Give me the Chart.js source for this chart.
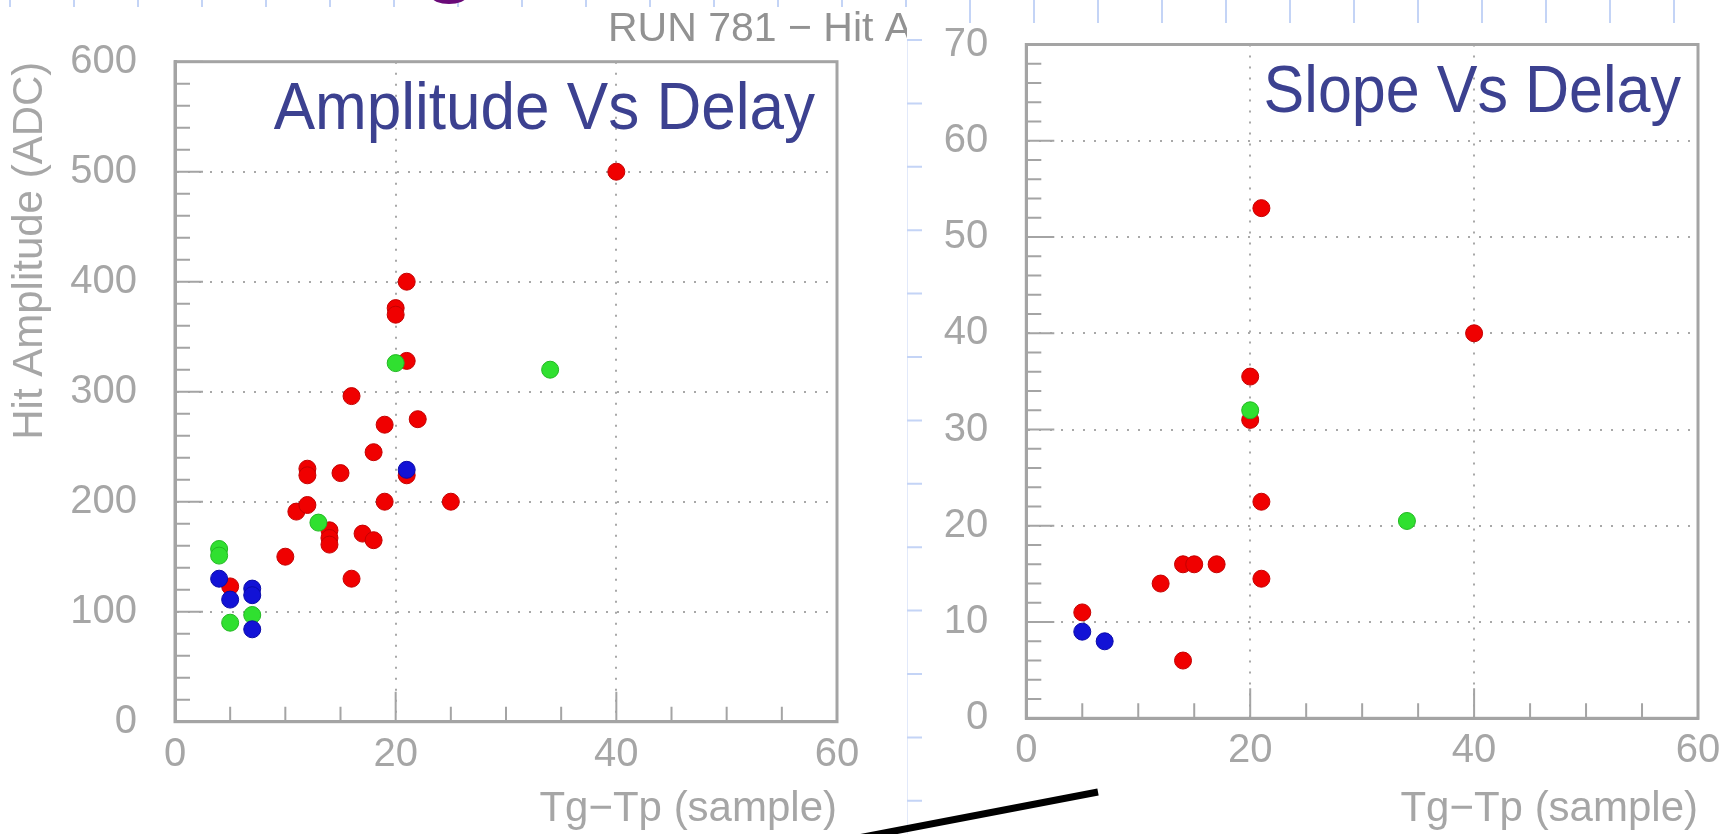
<!DOCTYPE html>
<html>
<head>
<meta charset="utf-8">
<title>RUN 781 – Amplitude and Slope vs Delay</title>
<script src="https://cdn.jsdelivr.net/npm/chart.js@4.4.1/dist/chart.umd.min.js"></script>
<style>
  html, body { margin: 0; padding: 0; background: #fff; }
  body { width: 1734px; height: 834px; position: relative; overflow: hidden; }
  canvas { position: absolute; top: 0; }
  #ampCanvas { left: 0; }
  #slopeCanvas { left: 907px; }
  #deco { left: 0; pointer-events: none; }
</style>
</head>
<body>
<canvas id="ampCanvas" width="907" height="834"></canvas>
<canvas id="slopeCanvas" width="827" height="834"></canvas>
<canvas id="deco" width="1734" height="834"></canvas>
<script>
// ---- Hit amplitude (ADC) against Tg-Tp delay (samples) ----
const ampRedDelay   = [40, 21, 20, 20, 21, 16, 22, 19, 18, 21, 12, 12, 15, 19, 25, 11, 12, 14, 14, 14, 17, 18, 10, 16, 5];
const ampRedAdc     = [500, 400, 376, 370, 328, 296, 275, 270, 245, 224, 230, 224, 226, 200, 200, 191, 197, 174, 167, 161, 171, 165, 150, 130, 123];
const ampGreenDelay = [20, 34, 13, 4, 4, 5, 7];
const ampGreenAdc   = [326, 320, 181, 157, 151, 90, 97];
const ampBlueDelay  = [21, 4, 5, 7, 7, 7];
const ampBlueAdc    = [229, 130, 111, 121, 115, 84];

// ---- Pulse slope against Tg-Tp delay (samples) ----
const slopeRedDelay   = [21, 40, 20, 20, 21, 14, 15, 17, 12, 21, 5, 14];
const slopeRedVal     = [53, 40, 35.5, 31, 22.5, 16, 16, 16, 14, 14.5, 11, 6];
const slopeGreenDelay = [20, 34];
const slopeGreenVal   = [32, 20.5];
const slopeBlueDelay  = [5, 7];
const slopeBlueVal    = [9, 8];

// ---- axis ranges and tick labels ----
const delayRange = [0, 60];
const delayTicks = [0, 20, 40, 60];
const ampRange   = [0, 600];
const ampTicks   = [0, 100, 200, 300, 400, 500, 600];
const slopeRange = [0, 70];
const slopeTicks = [0, 10, 20, 30, 40, 50, 60, 70];

const FONT = "'Liberation Sans', Arial, Helvetica, sans-serif";
const LABEL = '#a6a6a6';
const FRAME = '#a4a4a4';
const GRID = '#a8a8a8';
const TITLE_BLUE = '#3c4190';

// Inward ROOT-style tick marks and the closed frame around the plot area
const rootFrame = {
  id: 'rootFrame',
  beforeDatasetsDraw(chart, args, o) {
    const { ctx, chartArea: a, scales: { x, y } } = chart;
    const isMul = (v, s) => Math.abs(v / s - Math.round(v / s)) < 1e-6;
    ctx.save();
    ctx.strokeStyle = FRAME;
    ctx.lineWidth = 2;
    ctx.beginPath();
    for (let v = x.min; v <= x.max + 1e-9; v += o.xMinor) {
      const px = x.getPixelForValue(v);
      const len = isMul(v, o.xMajor) ? o.xMajorLen : o.minorLen;
      ctx.moveTo(px, a.bottom);
      ctx.lineTo(px, a.bottom - len);
    }
    for (let v = y.min; v <= y.max + 1e-9; v += o.yMinor) {
      const py = y.getPixelForValue(v);
      const len = isMul(v, o.yMajor) ? o.yMajorLen : o.minorLen;
      ctx.moveTo(a.left, py);
      ctx.lineTo(a.left + len, py);
    }
    ctx.stroke();
    ctx.lineWidth = 3;
    ctx.strokeRect(a.left, a.top, a.right - a.left, a.bottom - a.top);
    ctx.restore();
  }
};

// Panel caption inside the frame (narrowed face), plus an optional canvas header line
const panelTitle = {
  id: 'panelTitle',
  afterDraw(chart, args, o) {
    const { ctx, chartArea: a } = chart;
    ctx.save();
    ctx.font = '66px ' + FONT;
    ctx.fillStyle = TITLE_BLUE;
    ctx.textAlign = 'right';
    ctx.textBaseline = 'alphabetic';
    ctx.translate(a.right - o.inset, a.top + 67.5);
    ctx.scale(o.squeeze, 1);
    ctx.fillText(o.text, 0, 0);
    ctx.restore();
    if (o.header) {
      ctx.save();
      ctx.font = '41px ' + FONT;
      ctx.fillStyle = '#929292';
      ctx.textAlign = 'left';
      ctx.fillText(o.header, o.headerX, o.headerY);
      ctx.restore();
    }
  }
};

const toPoints = (xs, ys) => xs.map((v, i) => ({ x: v, y: ys[i] }));

function makePanel(id, p) {
  return new Chart(document.getElementById(id), {
    type: 'scatter',
    data: {
      datasets: [
        { label: 'blue',  data: toPoints(p.blue[0], p.blue[1]),   backgroundColor: '#1212d6', borderColor: '#0a0aa8' },
        { label: 'green', data: toPoints(p.green[0], p.green[1]), backgroundColor: '#30e030', borderColor: '#22b822' },
        { label: 'red',   data: toPoints(p.red[0], p.red[1]),     backgroundColor: '#f00000', borderColor: '#c40000' }
      ]
    },
    options: {
      responsive: false,
      animation: false,
      devicePixelRatio: 1,
      layout: { padding: { top: p.padTop, right: p.padRight, bottom: 0, left: 0 } },
      elements: { point: { radius: 8.5, hoverRadius: 8.5, borderWidth: 1 } },
      plugins: {
        legend: { display: false },
        tooltip: { enabled: false },
        rootFrame: { xMinor: 5, xMajor: 20, yMinor: p.yMinor, yMajor: p.yMajor, xMajorLen: 30, yMajorLen: 28, minorLen: 15 },
        panelTitle: { text: p.title, inset: p.titleInset, squeeze: p.squeeze, header: p.header, headerX: p.headerX, headerY: p.headerY }
      },
      scales: {
        x: {
          type: 'linear',
          min: delayRange[0], max: delayRange[1],
          afterFit(s) { s.height = p.xAxisHeight; },
          afterBuildTicks(s) { s.ticks = delayTicks.map(v => ({ value: v })); },
          ticks: { padding: 9, color: LABEL, font: { family: FONT, size: 40 }, maxRotation: 0, autoSkip: false },
          grid: { drawTicks: false, color: GRID, lineWidth: 2 },
          border: { color: FRAME, width: 3, dash: [2, 9] },
          title: { display: true, text: 'Tg\u2212Tp (sample)', align: 'end', color: LABEL,
                   font: { family: FONT, size: 42 }, padding: { top: 0, bottom: -1 } }
        },
        y: {
          type: 'linear',
          min: p.yRange[0], max: p.yRange[1],
          afterFit(s) { s.width = p.yAxisWidth; },
          afterBuildTicks(s) { s.ticks = p.yTicks.map(v => ({ value: v })); },
          ticks: { padding: 0, color: LABEL, font: { family: FONT, size: 40 }, autoSkip: false },
          grid: { drawTicks: true, tickLength: 38, tickColor: 'rgba(0,0,0,0)', color: GRID, lineWidth: 2 },
          border: { color: FRAME, width: 3, dash: [2, 9] },
          title: { display: !!p.yTitle, text: p.yTitle || '', align: 'end', color: LABEL,
                   font: { family: FONT, size: 42 }, padding: { top: 5, bottom: 0 } }
        }
      }
    },
    plugins: [rootFrame, panelTitle]
  });
}

makePanel('ampCanvas', {
  red: [ampRedDelay, ampRedAdc], green: [ampGreenDelay, ampGreenAdc], blue: [ampBlueDelay, ampBlueAdc],
  yRange: ampRange, yTicks: ampTicks, yMinor: 20, yMajor: 100,
  padTop: 61.7, padRight: 70, yAxisWidth: 175, xAxisHeight: 112.3,
  title: 'Amplitude Vs Delay', titleInset: 22, squeeze: 0.94,
  yTitle: 'Hit Amplitude (ADC)',
  header: 'RUN 781 \u2212 Hit A', headerX: 608, headerY: 41
});

makePanel('slopeCanvas', {
  red: [slopeRedDelay, slopeRedVal], green: [slopeGreenDelay, slopeGreenVal], blue: [slopeBlueDelay, slopeBlueVal],
  yRange: slopeRange, yTicks: slopeTicks, yMinor: 2, yMajor: 10,
  padTop: 44.5, padRight: 36, yAxisWidth: 119.3, xAxisHeight: 115.7,
  title: 'Slope Vs Delay', titleInset: 17, squeeze: 0.925
});

// Slide furniture: ruler marks, connector stroke and the clipped heading glyph
(function drawSlideDecor() {
  const ctx = document.getElementById('deco').getContext('2d');
  ctx.strokeStyle = '#c4d4f6';
  ctx.lineWidth = 2;
  ctx.beginPath();
  for (let x = 10; x <= 1734; x += 64) {
    ctx.moveTo(x, 0);
    ctx.lineTo(x, x > 907 ? 23 : 7);
  }
  ctx.stroke();

  ctx.strokeStyle = '#e2e9fa';
  ctx.lineWidth = 1;
  ctx.beginPath();
  ctx.moveTo(907.5, 40);
  ctx.lineTo(907.5, 834);
  ctx.stroke();
  ctx.strokeStyle = '#c4d4f6';
  ctx.lineWidth = 2;
  ctx.beginPath();
  for (let y = 40; y <= 834; y += 63.4) {
    ctx.moveTo(907, y);
    ctx.lineTo(922, y);
  }
  ctx.stroke();

  ctx.fillStyle = '#6a0a78';
  ctx.beginPath();
  ctx.ellipse(449, -3, 17, 7, 0, 0, Math.PI * 2);
  ctx.fill();

  ctx.strokeStyle = '#000';
  ctx.lineWidth = 7;
  ctx.beginPath();
  ctx.moveTo(858, 838);
  ctx.lineTo(1098, 792);
  ctx.stroke();
})();
</script>
</body>
</html>
